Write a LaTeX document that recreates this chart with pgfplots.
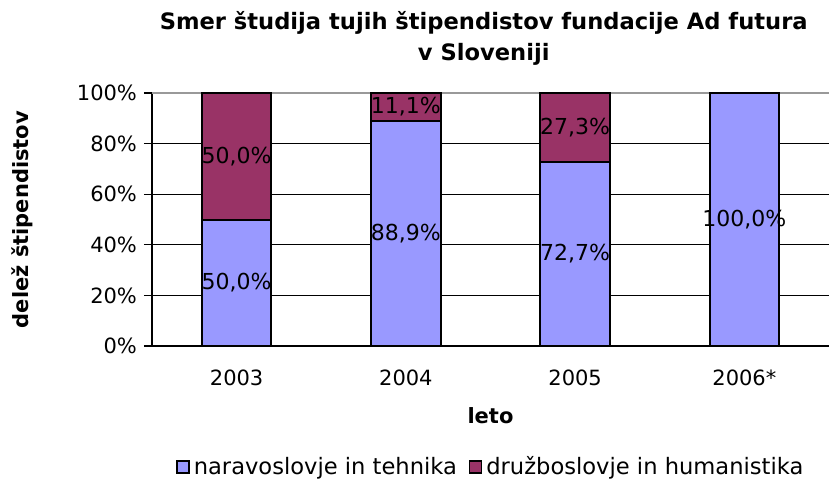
\documentclass[border=0pt]{standalone}
\usepackage{fontspec}
\setmainfont{DejaVu Sans}
\usepackage{pgfplots}
\pgfplotsset{compat=1.18}
\definecolor{periw}{HTML}{9999FF}
\definecolor{plum}{HTML}{993366}
\begin{document}
\begin{tikzpicture}
\useasboundingbox (-76pt,-68.5pt) rectangle (338.5pt,173pt);
\begin{axis}[
  at={(0pt,0pt)}, anchor=south west,
  scale only axis, width=338.5pt, height=126.5pt,
  ybar stacked, bar width=0.41,
  xmin=-0.5, xmax=3.5, ymin=0, ymax=100,
  xtick={0,1,2,3}, xticklabels={2003,2004,2005,2006*},
  extra x ticks={-0.5,0.5,1.5,2.5}, extra x tick labels={},
  extra x tick style={major tick length=5pt, tick style={black, line width=0.6pt}, xtick align=outside},
  major x tick style={draw=none},
  ytick={0,20,40,60,80},
  yticklabels={0\%,20\%,40\%,60\%,80\%},
  extra y ticks={100}, extra y tick labels={100\%},
  extra y tick style={grid style={gray!80, line width=0.8pt}},
  ymajorgrids, grid style={black, line width=0.5pt},
  axis x line*=bottom, axis y line*=left,
  axis line style={black, line width=0.6pt, -},
  y tick style={black, line width=0.6pt}, ytick align=outside, major tick length=4pt,
  tick label style={font=\fontsize{10.5}{12}\selectfont},
  xticklabel style={yshift=-8.5pt},
  ylabel={\textbf{delež štipendistov}},
  ylabel style={font=\fontsize{10.5}{12}\selectfont, at={(rel axis cs:0,0.5)}, anchor=center, yshift=65pt},
  xlabel={\textbf{leto}},
  xlabel style={font=\fontsize{10.5}{12}\selectfont, yshift=1pt},
  legend style={at={(0.502,-0.478)}, anchor=center, draw=none, legend columns=2,
    font=\fontsize{11.3}{13}\selectfont, /tikz/every even column/.append style={column sep=4pt}},
  legend image code/.code={\draw[#1, line width=0.7pt, draw=black] (0pt,-3pt) rectangle (6pt,3pt);},
  legend cell align=left,
  clip=false,
]
\addplot[fill=periw, draw=black, line width=1pt] coordinates {(0,50) (1,88.9) (2,72.7) (3,100)};
\addplot[fill=plum, draw=black, line width=1pt] coordinates {(0,50) (1,11.1) (2,27.3) (3,0)};
\legend{naravoslovje in tehnika, družboslovje in humanistika}
\end{axis}
\begin{axis}[
  at={(0pt,0pt)}, anchor=south west,
  scale only axis, width=338.5pt, height=126.5pt,
  xmin=-0.5, xmax=3.5, ymin=0, ymax=100,
  axis lines=none, clip=false,
  title={\textbf{Smer študija tujih štipendistov fundacije Ad futura}\\\textbf{v Sloveniji}},
  title style={font=\fontsize{11.3}{15.5}\selectfont, align=center, at={(0.49,1)}, anchor=south, yshift=4.5pt},
  nodes near coords, point meta=explicit symbolic,
  every node near coord/.style={anchor=center, font=\fontsize{11}{12}\selectfont, black},
]
\addplot[only marks, mark=none] table[meta=lab] {
x y lab
0 25 50,0\%
0 75 50,0\%
1 44.45 88,9\%
1 94.45 11,1\%
2 36.35 72,7\%
2 86.35 27,3\%
3 50 100,0\%
};
\end{axis}
\end{tikzpicture}
\end{document}
